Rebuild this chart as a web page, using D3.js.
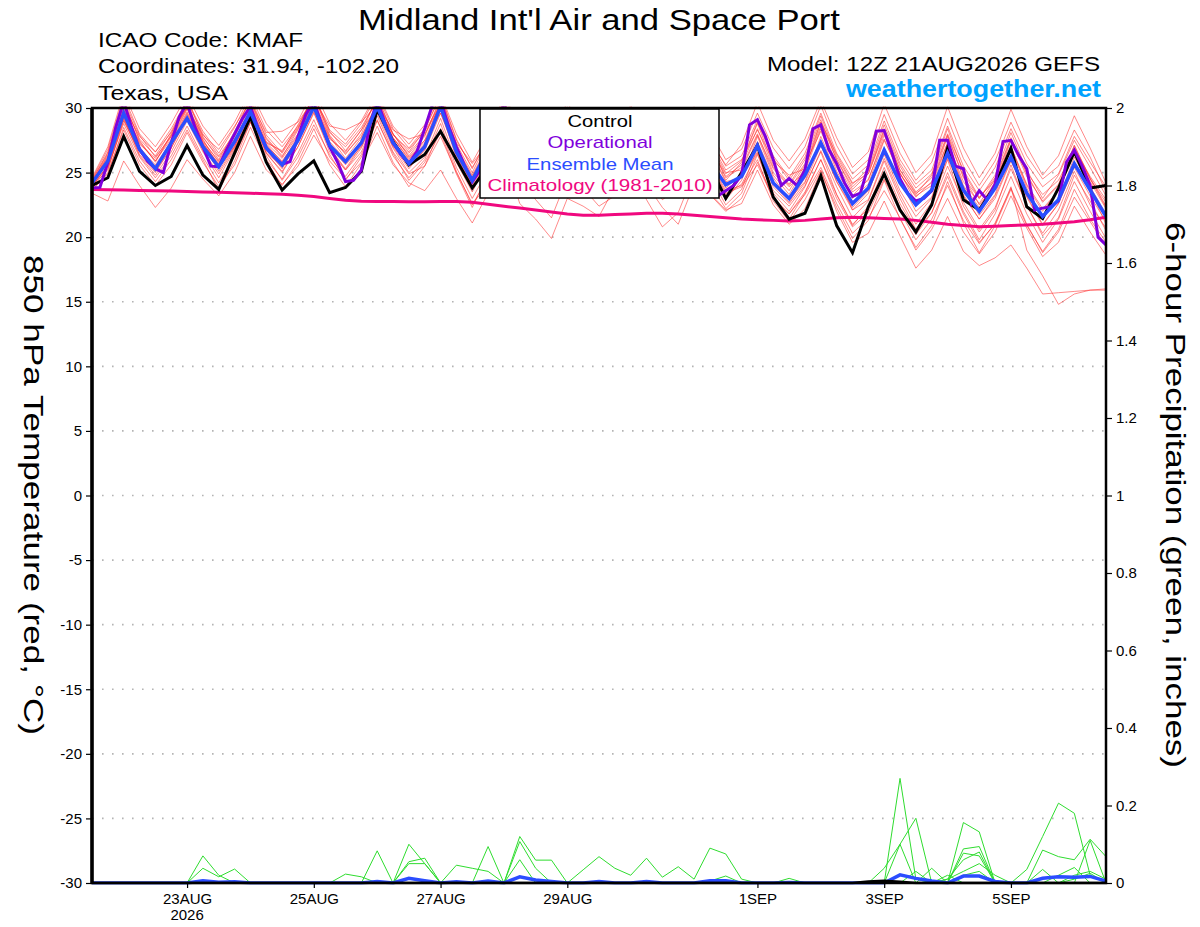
<!DOCTYPE html>
<html>
<head>
<meta charset="utf-8">
<script src="https://cdn.jsdelivr.net/npm/d3@7"></script>
<style>
  body { margin: 0; background: #ffffff; }
  text { font-family: "Liberation Sans", Arial, Helvetica, sans-serif; }
</style>
</head>
<body>
<div id="chart"></div>
<script>

// ---- data ----------------------------------------------------------
// run 12Z 21AUG2026, 6-hourly steps out to 384 h (65 points)
var runStartUtc = Date.UTC(2026, 7, 21, 12);

var tempTicks = [-30, -25, -20, -15, -10, -5, 0, 5, 10, 15, 20, 25, 30];
var precipTicks = [0, 0.2, 0.4, 0.6, 0.8, 1, 1.2, 1.4, 1.6, 1.8, 2];
var dateTicks = ["2026-08-23", "2026-08-25", "2026-08-27", "2026-08-29", "2026-09-01", "2026-09-03", "2026-09-05"];
var dateTickLabels = ["23AUG", "25AUG", "27AUG", "29AUG", "1SEP", "3SEP", "5SEP"];

// control run 850 hPa temperature (C)
var controlTemp = [
  24.0, 24.6, 27.8, 25.1, 24.0, 24.7, 27.1, 24.8,
  23.7, 26.5, 29.3, 25.8, 23.65, 24.9, 25.9, 23.45,
  23.85, 25.1, 29.9, 27.4, 25.6, 26.4, 28.2, 26.0,
  23.8, 25.5, 27.8, 26.0, 24.2, 25.3, 27.5, 25.8,
  24.0, 25.5, 27.9, 26.0, 24.3, 25.0, 27.6, 25.5,
  23.0, 25.0, 27.1, 23.1, 21.4, 21.85, 24.75, 20.9,
  18.8, 22.35, 24.9, 22.1, 20.4, 22.5, 26.9, 22.9,
  22.1, 24.0, 26.9, 22.35, 21.45, 23.8, 26.6, 23.8,
  24.0
];

// ensemble mean 850 hPa temperature (C)
var meanTemp = [
  24.2, 25.9, 29.6, 26.8, 25.3, 27.3, 29.2, 27.0,
  25.45, 27.4, 29.7, 26.9, 25.6, 27.5, 30.1, 27.1,
  25.85, 27.3, 30.1, 27.3, 25.7, 27.0, 30.1, 26.6,
  24.4, 26.8, 29.8, 27.5, 25.5, 26.8, 29.0, 27.2,
  25.3, 26.5, 28.8, 27.0, 25.2, 26.2, 28.3, 25.8,
  24.05, 24.7, 27.1, 24.2, 23.0, 24.8, 27.3, 24.7,
  22.6, 23.8, 26.75, 24.2, 22.5, 23.65, 26.5, 23.65,
  22.0, 23.8, 26.2, 23.4, 21.6, 22.9, 25.7, 23.65,
  21.6
];

// climatology 1981-2010 (C)
var climoTemp = [
  23.7, 23.68, 23.65, 23.62, 23.6, 23.57, 23.54, 23.5,
  23.47, 23.44, 23.4, 23.37, 23.33, 23.25, 23.15, 23.0,
  22.85, 22.78, 22.77, 22.76, 22.75, 22.75, 22.76, 22.77,
  22.7, 22.55, 22.4, 22.25, 22.1, 21.95, 21.8, 21.7,
  21.7, 21.75, 21.8, 21.85, 21.85, 21.8, 21.7, 21.6,
  21.5, 21.4, 21.35, 21.3, 21.25, 21.3, 21.4, 21.5,
  21.55, 21.5, 21.45, 21.4, 21.3, 21.15, 21.0, 20.9,
  20.8, 20.85, 20.9, 20.95, 21.0, 21.1, 21.2, 21.35,
  21.55
];

// operational run, 3-hourly (129 points)
var operationalTemp = [
  23.8, 23.85, 25.8, 28.5, 30.5, 28.5, 26.8, 25.9,
  25.3, 25.0, 27.3, 29.3, 30.4, 28.5, 27.0, 25.5,
  25.45, 26.8, 28.0, 29.2, 30.1, 28.4, 26.9, 26.2,
  25.65, 25.85, 27.8, 29.5, 30.5, 28.7, 27.0, 25.8,
  24.3, 24.4, 25.2, 28.5, 30.6, 28.8, 27.3, 26.4,
  25.7, 26.6, 28.4, 30.3, 30.6, 28.6, 27.0, 25.6,
  24.3, 25.2, 27.0, 29.0, 30.3, 29.0, 27.2, 25.8,
  24.6, 25.4, 27.3, 29.0, 29.8, 28.4, 26.8, 25.6,
  24.5, 25.2, 27.0, 28.6, 29.4, 28.0, 26.5, 25.2,
  24.2, 24.8, 26.5, 28.2, 29.0, 27.2, 25.3, 23.2,
  23.6, 24.0, 24.8, 28.7, 29.1, 27.8, 26.0, 24.0,
  24.55, 24.0, 25.2, 28.4, 28.7, 26.8, 25.7, 24.2,
  23.15, 23.4, 25.5, 28.2, 28.25, 26.5, 24.5, 23.4,
  22.8, 23.0, 23.6, 27.5, 27.5, 25.5, 25.3, 22.6,
  23.6, 22.9, 24.1, 27.4, 27.5, 26.3, 25.3, 22.1,
  22.25, 22.35, 22.8, 25.8, 26.75, 25.5, 24.0, 20.0,
  19.4
];

// ensemble members (C)
var mem01 = [24.4,26.5,30.5,27.5,25.8,28.0,30.8,27.8, 26.0,28.2,30.6,27.6,26.2,28.3,31.0,27.9, 26.4,28.0,30.9,28.0,26.3,27.8,30.8,27.2, 25.0,27.5,30.5,28.2,26.1,27.5,29.8,27.9, 25.9,27.2,29.6,27.7,25.8,26.9,29.1,27.1, 24.6,25.4,28.0,25.0,23.6,25.6,28.2,25.4, 23.2,24.5,27.6,24.9,23.1,24.3,27.3,24.3, 22.6,24.5,27.0,24.1,22.2,23.6,26.5,24.3, 22.2];
var mem02 = [23.4,22.8,25.9,24.0,22.3,23.8,26.0,24.5, 23.2,25.0,27.8,25.2,24.1,25.5,27.9,25.9, 24.5,25.8,28.1,25.6,24.2,23.6,25.2,23.0, 21.1,23.4,26.6,24.8,22.9,21.5,24.6,23.8, 22.4,23.2,25.9,24.1,22.3,21.0,24.1,23.3, 22.0,23.0,25.8,23.1,21.8,23.5,26.0,23.0, 20.8,21.9,24.5,22.0,19.8,21.4,24.0,21.3, 19.5,21.1,23.8,21.0,18.8,20.4,23.1,21.2, 19.3];
var mem03 = [24.6,27.0,31.2,28.4,27.0,28.8,31.0,28.6, 27.1,28.9,31.3,28.8,27.3,29.0,31.4,28.8, 27.5,29.0,31.2,28.6,27.2,28.7,31.1,28.0, 25.8,28.0,30.9,28.8,26.8,28.2,30.4,28.5, 26.6,28.0,30.2,28.4,26.5,27.6,30.1,28.2, 26.0,26.8,29.6,26.9,25.3,27.0,30.2,27.1, 24.9,26.0,29.5,26.5,24.4,25.8,29.2,26.1, 24.0,25.9,28.9,26.3,24.5,25.5,28.3,26.2, 23.5];
var mem04 = [24.0,25.2,29.0,26.6,25.5,27.2,29.6,27.1, 25.1,27.0,29.9,27.2,25.8,27.8,30.4,27.4, 26.0,27.4,30.4,27.7,26.1,27.3,30.5,26.9, 24.3,26.9,30.1,27.5,25.3,26.6,29.1,27.0, 25.1,26.3,28.9,27.2,25.4,26.5,28.6,26.3, 23.8,24.9,27.4,24.6,22.9,24.3,27.8,24.9, 22.1,23.4,26.9,24.4,22.0,23.1,26.4,23.2, 21.4,23.2,26.0,23.1,20.9,22.6,25.6,23.7, 21.0];
var mem05 = [24.3,26.2,29.9,27.2,26.1,27.9,30.2,27.4, 25.9,27.9,30.3,27.4,26.6,28.7,30.8,28.1, 27.0,28.5,30.6,27.9,26.8,28.2,30.3,26.3, 24.0,26.1,29.2,27.0,25.8,27.2,28.6,26.5, 24.7,26.0,28.1,26.6,24.9,26.1,28.0,26.8, 24.4,25.8,28.8,25.6,24.1,26.0,29.1,26.0, 23.9,25.1,28.4,25.5,23.5,24.6,27.9,24.7, 22.5,24.0,27.5,24.7,22.8,24.1,27.1,24.6, 22.4];
var mem06 = [23.9,25.6,29.3,26.3,24.8,26.6,29.0,26.6, 24.6,26.8,29.4,26.5,25.1,27.0,29.7,26.6, 25.2,26.9,29.6,26.9,25.0,26.2,29.2,25.8, 23.5,25.9,29.5,26.9,24.9,25.8,28.4,26.6, 24.6,25.7,28.2,26.3,24.4,25.4,27.6,25.7, 23.3,24.1,26.5,23.4,22.0,23.9,26.7,23.9, 21.5,22.8,25.9,23.0,20.6,22.4,25.5,22.7, 20.6,22.3,25.3,22.5,20.1,21.5,24.8,22.8, 20.5];
var mem07 = [24.1,25.8,29.4,26.9,25.2,27.1,29.5,27.2, 25.7,27.6,29.6,26.8,25.3,27.3,29.9,27.0, 25.6,27.0,29.8,27.1,25.5,26.7,29.6,26.4, 24.1,26.4,29.4,27.2,25.2,26.4,28.7,26.9, 25.0,26.2,28.5,26.6,24.8,25.8,27.9,25.9, 23.6,24.0,26.0,22.8,21.2,22.9,25.2,22.0, 19.6,20.3,22.8,20.1,17.6,19.0,21.6,18.9, 17.8,18.4,19.4,17.6,15.6,15.7,15.8,15.9, 16.0];
var mem08 = [24.2,26.0,29.8,27.0,25.4,27.5,29.9,27.5, 25.8,27.5,30.0,27.1,25.9,27.6,30.3,27.3, 25.8,27.5,30.2,27.5,25.9,27.1,30.0,26.6, 24.6,26.9,29.9,27.6,25.6,26.9,29.2,27.4, 25.5,26.7,28.9,27.0,25.3,26.4,28.5,26.7, 24.3,24.6,26.6,23.6,22.4,24.0,26.6,23.3, 21.0,22.2,25.0,22.3,20.2,21.9,24.7,21.8, 19.6,21.0,23.9,19.0,17.0,14.8,15.6,15.9, 15.9];
var mem09 = [24.5,26.8,30.9,28.0,26.6,28.4,30.6,28.2, 26.5,28.5,31.0,28.3,27.0,28.6,30.9,28.3, 27.2,28.8,31.0,28.4,26.9,28.4,30.9,27.5, 25.4,27.4,30.3,28.3,26.3,27.8,30.0,28.1, 26.2,27.6,29.9,28.0,26.2,27.2,29.7,27.6, 25.5,26.3,29.1,26.3,24.6,26.5,29.6,26.5, 24.5,25.6,29.0,26.0,24.1,25.2,28.6,25.5, 23.6,25.4,28.4,25.7,23.9,24.9,27.8,25.8, 23.9];
var mem10 = [24.0,25.4,28.8,26.2,24.6,26.3,28.6,26.2, 24.2,26.3,28.9,26.0,24.5,26.5,29.1,26.2, 24.7,26.4,29.1,26.3,24.6,26.0,28.8,25.4, 23.0,25.2,28.6,26.2,24.1,24.8,27.6,25.8, 23.8,24.9,27.4,25.4,23.4,24.5,26.9,25.0, 22.9,24.4,27.8,24.8,23.3,25.4,28.6,25.7, 23.5,24.4,27.9,25.0,22.7,23.7,27.1,23.9, 21.7,23.3,26.9,23.8,21.5,22.9,26.2,23.9, 21.8];
var mem11 = [24.2,26.3,30.1,27.8,26.6,28.1,30.0,27.9, 26.8,28.6,30.5,28.1,28.2,28.9,30.7,28.6, 28.3,28.9,30.3,28.3,27.6,28.0,30.2,27.3, 25.7,27.3,30.0,27.9,26.4,27.1,29.5,27.1, 25.4,26.8,29.1,27.4,25.6,26.8,29.4,27.4, 25.2,26.0,28.3,25.9,24.8,25.3,28.9,26.4, 24.2,24.9,28.1,25.2,23.3,24.8,28.0,25.2, 23.1,24.4,27.6,25.0,23.3,24.4,26.8,24.7, 22.9];
var mem12 = [23.6,25.0,28.3,25.6,24.0,25.6,28.1,25.8, 23.9,25.6,28.5,25.9,24.0,25.8,28.4,25.6, 23.9,25.7,28.6,25.8,23.9,25.5,28.4,25.1, 22.5,24.6,27.9,25.6,23.5,24.7,27.2,25.3, 23.1,24.1,26.9,24.9,22.9,23.8,26.3,24.2, 22.2,23.4,26.4,23.2,21.4,23.4,26.0,23.3, 20.9,22.4,25.4,22.6,20.5,21.9,25.0,22.0, 19.8,21.8,24.7,21.8,19.6,21.4,24.3,22.0, 19.9];
var mem13 = [24.3,26.4,30.4,27.6,26.3,28.2,30.5,28.0, 26.3,28.0,30.8,27.9,26.5,28.4,31.1,28.2, 26.7,28.3,30.8,28.0,26.6,28.3,31.0,27.6, 25.3,27.8,30.7,28.5,26.5,27.9,30.1,28.2, 26.0,27.4,29.8,27.9,26.0,27.2,29.7,27.5, 25.6,27.2,30.4,27.5,25.9,27.6,30.6,27.7, 25.4,26.6,30.3,27.4,25.0,26.4,30.1,26.9, 24.6,26.5,29.9,27.0,24.8,26.3,29.4,26.9, 24.2];
var mem14 = [23.8,25.3,29.1,26.4,25.0,26.9,29.3,26.9, 25.3,27.1,29.5,26.6,25.4,27.4,29.9,26.9, 25.3,27.1,29.9,27.0,25.3,26.8,29.9,26.1, 23.7,26.2,29.6,27.1,25.0,26.3,28.5,26.8, 24.8,25.8,28.3,26.5,24.7,25.6,28.0,25.9, 23.4,23.9,25.6,23.0,21.8,23.3,25.4,22.6, 20.3,21.5,23.6,21.5,19.0,20.6,23.0,20.4, 18.7,20.4,23.2,20.7,18.5,19.6,22.4,20.4, 18.6];
var mem15 = [24.4,26.6,30.6,27.9,26.2,27.8,30.3,27.7, 26.2,27.8,30.1,27.3,26.1,27.9,30.6,27.8, 26.1,27.7,30.5,27.6,26.5,27.9,30.6,27.0, 24.8,27.1,30.3,27.9,25.9,27.3,29.6,27.6, 25.7,27.0,29.4,27.3,25.5,26.7,28.9,26.9, 24.9,25.9,28.9,26.1,24.4,26.2,29.4,26.2, 24.1,25.3,28.7,25.7,23.8,24.9,28.4,25.0, 23.0,24.8,28.1,25.2,23.0,24.8,27.5,25.4, 23.2];
var mem16 = [24.1,25.9,29.6,26.9,25.6,27.4,29.7,27.3, 25.6,27.3,29.8,26.9,25.7,27.5,30.2,27.2, 25.9,27.4,30.2,27.4,25.8,27.2,30.2,26.5, 24.2,26.6,29.7,27.4,25.4,26.7,28.9,27.2, 25.3,26.5,28.7,26.9,25.1,26.1,28.2,26.4, 24.0,24.8,27.3,24.1,22.7,24.6,27.5,24.3, 22.3,23.6,26.4,23.6,21.6,23.0,26.1,23.3, 21.4,23.0,25.9,23.2,21.0,22.6,25.4,23.2, 21.2];
var mem17 = [24.0,25.5,29.2,26.6,25.1,26.9,29.2,26.7, 24.9,26.9,29.3,26.5,25.0,27.0,29.6,26.9, 25.2,26.6,29.4,26.6,24.9,25.5,27.8,25.0, 22.6,24.0,26.4,22.6,21.4,19.9,23.0,22.4, 21.6,23.9,25.8,22.9,20.8,21.9,25.0,23.4, 22.1,22.6,25.2,22.5,21.0,22.2,25.1,22.3, 19.9,21.3,24.4,21.4,19.2,20.9,24.3,21.1, 18.8,20.9,23.7,20.9,18.9,20.6,23.7,21.4, 19.6];
var mem18 = [24.3,26.1,29.7,27.3,25.9,27.8,30.1,27.6, 25.4,27.0,29.6,27.3,26.7,28.5,30.3,27.6, 26.6,28.3,30.0,28.0,26.2,27.5,29.6,26.8, 24.5,26.5,29.1,27.8,26.0,27.0,28.8,27.3, 25.6,26.3,28.6,27.1,25.7,26.6,28.8,27.2, 25.0,25.2,27.9,25.3,23.9,25.1,28.4,25.1, 23.0,24.1,27.5,24.9,23.2,24.0,27.3,24.0, 22.3,24.3,27.0,24.0,22.0,23.7,26.9,24.5, 22.7];
var mem19 = [23.7,24.9,28.5,25.9,24.3,26.0,28.3,26.0, 23.6,25.9,28.9,26.3,24.4,26.2,28.7,26.4, 24.4,26.2,29.0,26.5,24.4,25.8,28.1,24.9, 22.3,24.9,28.2,25.9,23.9,24.3,27.0,25.7, 23.6,24.7,27.1,25.2,23.7,24.9,27.2,24.7, 22.5,23.7,26.9,23.9,22.6,24.2,27.1,24.3, 22.1,22.9,26.1,23.3,21.0,22.7,26.0,22.4, 20.4,22.1,25.6,22.4,20.3,22.1,25.1,22.5, 20.7];
var mem20 = [24.2,26.0,29.9,27.4,25.9,27.6,30.0,27.3, 25.5,27.8,30.4,27.7,26.3,28.0,30.4,27.7, 26.5,27.8,30.3,27.7,26.0,27.5,30.4,26.9, 24.7,27.0,30.1,27.7,25.7,27.1,29.3,27.5, 25.5,26.8,29.2,27.0,25.4,26.5,29.0,27.0, 24.7,25.6,28.4,25.4,24.0,25.7,28.9,26.0, 23.7,24.9,28.3,25.2,23.4,24.2,27.8,24.6, 23.0,24.6,27.7,24.9,22.7,24.0,27.1,24.5, 22.3];
var memberTemps = [mem01, mem02, mem03, mem04, mem05, mem06, mem07, mem08, mem09, mem10,
                   mem11, mem12, mem13, mem14, mem15, mem16, mem17, mem18, mem19, mem20];

// 6-hour precipitation (inches), members with measurable rain
var pcp01 = [0,0,0,0,0,0,0,.07, .02,0,0,0,0,0,0,0, 0,0,0,0,.10,.05,0,0, 0,0,0,.12,.059,.059,0,0, 0,0,0,0,0,0,0,0, 0,0,0,0,0,0,0,0, 0,0,0,.27,.01,0,0,0, 0,0,0,.035,.12,.206,.18,.02, 0];
var pcp02 = [0,0,0,0,0,0,0,.038, .016,.036,0,0,0,0,0,0, 0,0,.083,0,0,0,0,0, 0,.094,0,0,0,0,0,0, 0,0,0,0,0,0,0,0, 0,0,0,0,0,0,0,0, 0,0,0,0,0,0,0,.156, .132,0,0,0,.085,.068,.06,.113, .068];
var pcp03 = [0,0,0,0,0,0,0,0, 0,0,0,0,0,0,0,0, .023,.016,0,0,.055,.064,0,.046, .038,.03,0,.107,.038,0,0,0, 0,0,0,0,0,0,0,0, 0,0,0,0,0,0,0,0, 0,0,.038,.10,.167,0,0,.088, .094,0,0,0,.035,0,0,.11, 0];
var pcp04 = [0,0,0,0,0,0,0,0, 0,0,0,0,0,0,0,0, 0,0,0,0,.05,.05,0,0, 0,0,0,0,0,0,0,.034, .068,.038,.02,.064,.015,.042,.01,.09, .075,.01,0,0,0,0,0,0, 0,0,0,0,0,.038,0,.077, .07,0,0,0,0,0,0,0, 0];
var pcp05 = [0,0,0,0,0,0,0,0, 0,0,0,0,0,0,0,0, 0,0,0,0,0,0,0,0, 0,0,0,0,0,0,0,0, 0,0,0,0,0,0,0,.005, .018,0,0,0,.012,0,0,0, 0,0,0,0,0,0,.02,0, 0,0,0,0,0,0,.01,.025, 0];
var pcp06 = [0,0,0,0,0,0,0,0, 0,0,0,0,0,0,0,0, 0,0,0,0,0,0,0,0, 0,0,0,.06,0,0,0,0, 0,0,0,0,0,0,0,0, 0,0,0,0,0,0,0,0, 0,0,0,.10,0,0,.01,.03, .05,.02,0,0,0,0,.02,.03, .01];
var pcp07 = [0,0,0,0,0,0,0,0, 0,0,0,0,0,0,0,0, 0,0,0,0,0,0,0,0, 0,0,0,0,0,0,0,0, 0,0,0,0,0,0,0,0, 0,0,0,0,0,0,0,0, 0,0,0,0,.03,0,0,.02, .03,0,0,0,0,.02,.04,0, 0];
var pcp08 = [0,0,0,0,0,0,0,0, 0,0,0,0,0,0,0,0, 0,0,0,0,0,0,0,0, 0,0,0,0,0,0,0,0, 0,0,0,0,0,0,0,0, 0,0,0,0,0,0,0,0, 0,0,0,0,0,0,.01,.06, .08,0,0,0,0,0,0,0, 0];
var memberPrecip = [pcp01, pcp02, pcp03, pcp04, pcp05, pcp06, pcp07, pcp08];

var meanPrecip = [0,0,0,0,0,0,0,.006, .002,.003,0,0,0,0,0,0, 0,0,.004,0,.012,.006,0,.003, 0,.005,0,.016,.008,.004,0,0, .004,0,0,.004,0,0,0,.006, .006,0,0,0,.001,0,0,0, 0,0,0,.021,.012,.005,0,.018, .018,.004,0,0,.012,.016,.015,.017, .005];
var controlPrecip = [0,0,0,0,0,0,0,0, 0,0,0,0,0,0,0,0, 0,0,0,0,0,0,0,0, 0,0,0,0,0,0,0,0, 0,0,0,0,0,0,0,0, 0,0,0,0,0,0,0,0, 0,.004,.006,.003,0,0,0,0, 0,0,0,0,0,0,0,0, 0];

// ---- chart ---------------------------------------------------------
var svgWidth = 1200;
var svgHeight = 927;

var margin = {
  top: 108,
  right: 94,
  bottom: 44,
  left: 92
};

var width = svgWidth - margin.left - margin.right;
var height = svgHeight - margin.top - margin.bottom;

var svg = d3.select("#chart")
  .append("svg")
  .attr("width", svgWidth)
  .attr("height", svgHeight)
  .style("background", "#ffffff");

var chartGroup = svg.append("g")
  .attr("transform", `translate(${margin.left}, ${margin.top})`);

// time helpers
function stepDate(i, hours) {
  return new Date(runStartUtc + i * hours * 3600 * 1000);
}
var parseDay = d3.utcParse("%Y-%m-%d");

// scales
var xTimeScale = d3.scaleUtc()
  .domain([stepDate(0, 6), stepDate(64, 6)])
  .range([0, width]);

var yTempScale = d3.scaleLinear()
  .domain([-30, 30])
  .range([height, 0]);

var yPrecipScale = d3.scaleLinear()
  .domain([0, 2])
  .range([height, 0]);

// dotted grid at temperature ticks
chartGroup.selectAll(".grid")
  .data(tempTicks.filter(d => d > -30 && d < 30))
  .enter()
  .append("line")
  .attr("class", "grid")
  .attr("x1", 0)
  .attr("x2", width)
  .attr("y1", d => yTempScale(d))
  .attr("y2", d => yTempScale(d))
  .attr("stroke", "#b4b4b4")
  .attr("stroke-width", 1.6)
  .attr("stroke-dasharray", "1.6,8.4");

// clip the lines to the plot box
chartGroup.append("clipPath")
  .attr("id", "plotClip")
  .append("rect")
  .attr("x", 0)
  .attr("y", -1.5)
  .attr("width", width)
  .attr("height", height + 3);

var plot = chartGroup.append("g").attr("clip-path", "url(#plotClip)");

var tempLine6h = d3.line()
  .x((d, i) => xTimeScale(stepDate(i, 6)))
  .y(d => yTempScale(d));

var tempLine3h = d3.line()
  .x((d, i) => xTimeScale(stepDate(i, 3)))
  .y(d => yTempScale(d));

var precipLine = d3.line()
  .x((d, i) => xTimeScale(stepDate(i, 6)))
  .y(d => yPrecipScale(d));

// ensemble members (thin red)
plot.selectAll(".member")
  .data(memberTemps)
  .enter()
  .append("path")
  .attr("class", "member")
  .attr("d", tempLine6h)
  .attr("fill", "none")
  .attr("stroke", "#ff2a2a")
  .attr("stroke-opacity", 0.55)
  .attr("stroke-width", 1);

// precip members (thin green)
plot.selectAll(".pcpMember")
  .data(memberPrecip)
  .enter()
  .append("path")
  .attr("class", "pcpMember")
  .attr("d", precipLine)
  .attr("fill", "none")
  .attr("stroke", "#2fdc2f")
  .attr("stroke-width", 1);

plot.append("path")
  .attr("d", precipLine(meanPrecip))
  .attr("fill", "none")
  .attr("stroke", "#2b4dff")
  .attr("stroke-width", 3.5);

plot.append("path")
  .attr("d", precipLine(controlPrecip))
  .attr("fill", "none")
  .attr("stroke", "#000000")
  .attr("stroke-width", 2.5);

// climatology, control, operational, mean
plot.append("path")
  .attr("d", tempLine6h(climoTemp))
  .attr("fill", "none")
  .attr("stroke", "#f0087f")
  .attr("stroke-width", 3);

plot.append("path")
  .attr("d", tempLine6h(controlTemp))
  .attr("fill", "none")
  .attr("stroke", "#000000")
  .attr("stroke-width", 3);

plot.append("path")
  .attr("d", tempLine3h(operationalTemp))
  .attr("fill", "none")
  .attr("stroke", "#8000dc")
  .attr("stroke-width", 3);

plot.append("path")
  .attr("d", tempLine6h(meanTemp))
  .attr("fill", "none")
  .attr("stroke", "#2b4dff")
  .attr("stroke-width", 3.5);

// axes (plain hyphen for negatives, as on the original)
var leftAxis = d3.axisLeft(yTempScale)
  .tickValues(tempTicks)
  .tickFormat(d => String(d))
  .tickSize(6)
  .tickPadding(4);

var rightAxis = d3.axisRight(yPrecipScale)
  .tickValues(precipTicks)
  .tickFormat(d => String(+d.toFixed(1)))
  .tickSize(6)
  .tickPadding(4);

var bottomAxis = d3.axisBottom(xTimeScale)
  .tickValues(dateTicks.map(d => parseDay(d)))
  .tickFormat((d, i) => dateTickLabels[i])
  .tickSize(5)
  .tickPadding(5);

var leftG = chartGroup.append("g").call(leftAxis);
var rightG = chartGroup.append("g")
  .attr("transform", `translate(${width}, 0)`)
  .call(rightAxis);
var bottomG = chartGroup.append("g")
  .attr("transform", `translate(0, ${height})`)
  .call(bottomAxis);

[leftG, rightG, bottomG].forEach(function(g) {
  g.select(".domain").remove();
  g.selectAll("text")
    .attr("font-size", "15px")
    .attr("fill", "#000");
  g.selectAll(".tick line").attr("stroke", "#000").attr("stroke-width", 1.2);
});

// year under the first date label
chartGroup.append("text")
  .attr("x", xTimeScale(parseDay(dateTicks[0])))
  .attr("y", height + 37)
  .attr("text-anchor", "middle")
  .attr("font-size", "15px")
  .text("2026");

// frame
chartGroup.append("rect")
  .attr("x", 0)
  .attr("y", 0)
  .attr("width", width)
  .attr("height", height)
  .attr("fill", "none")
  .attr("stroke", "#000")
  .attr("stroke-width", 2.5);

chartGroup.append("line")
  .attr("x1", 0).attr("x2", 0)
  .attr("y1", 0).attr("y2", height)
  .attr("stroke", "#000")
  .attr("stroke-width", 3.5);

// legend box
var legend = svg.append("g");
legend.append("rect")
  .attr("x", 480)
  .attr("y", 109)
  .attr("width", 239)
  .attr("height", 89)
  .attr("fill", "#ffffff")
  .attr("stroke", "#000")
  .attr("stroke-width", 1.5);

var legendItems = [
  { label: "Control", color: "#000000", len: 65, y: 127 },
  { label: "Operational", color: "#8000dc", len: 105, y: 148 },
  { label: "Ensemble Mean", color: "#2b4dff", len: 147, y: 169.5 },
  { label: "Climatology (1981-2010)", color: "#f0087f", len: 225, y: 191 }
];

legend.selectAll(".legendText")
  .data(legendItems)
  .enter()
  .append("text")
  .attr("class", "legendText")
  .attr("x", d => 600 - d.len / 2)
  .attr("y", d => d.y)
  .attr("font-size", "17px")
  .attr("textLength", d => d.len)
  .attr("lengthAdjust", "spacingAndGlyphs")
  .attr("fill", d => d.color)
  .text(d => d.label);

// titles
function headerText(txt, x, y, size, len) {
  return svg.append("text")
    .attr("x", x)
    .attr("y", y)
    .attr("font-size", size)
    .attr("textLength", len)
    .attr("lengthAdjust", "spacingAndGlyphs")
    .text(txt);
}

headerText("Midland Int'l Air and Space Port", 358, 29.5, "29px", 482);
headerText("ICAO Code: KMAF", 98, 46.7, "21px", 205);
headerText("Coordinates: 31.94, -102.20", 98, 73.3, "21px", 301);
headerText("Texas, USA", 98, 100, "21px", 130);
headerText("Model: 12Z 21AUG2026 GEFS", 767, 70.7, "21px", 333);
headerText("weathertogether.net", 846, 96.7, "23px", 255)
  .attr("font-weight", "bold")
  .attr("fill", "#00a2ff");

// axis titles
svg.append("text")
  .attr("transform", "translate(24, 255) rotate(90)")
  .attr("font-size", "28px")
  .attr("textLength", 480)
  .attr("lengthAdjust", "spacingAndGlyphs")
  .text("850 hPa Temperature (red, °C)");

svg.append("text")
  .attr("transform", "translate(1166, 222) rotate(90)")
  .attr("font-size", "28px")
  .attr("textLength", 546)
  .attr("lengthAdjust", "spacingAndGlyphs")
  .text("6-hour Precipitation (green, inches)");

</script>
</body>
</html>
